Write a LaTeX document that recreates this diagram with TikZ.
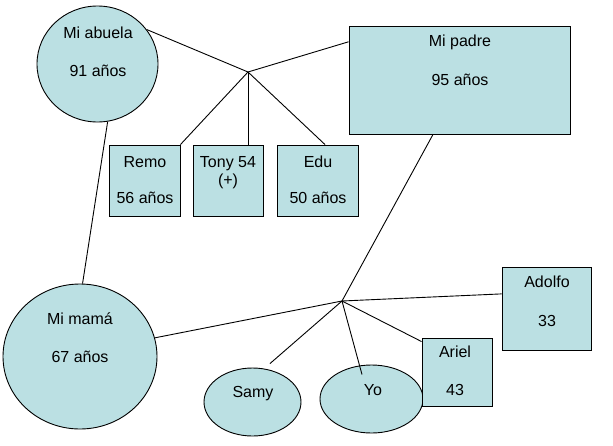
\documentclass[tikz,border=0pt]{standalone}
\usepackage{fontspec}
\setmainfont{Liberation Sans}
\usetikzlibrary{shapes.geometric}
\definecolor{boxfill}{RGB}{187,224,227}
\begin{document}
\begin{tikzpicture}[x=1pt,y=-1pt,
  shp/.style={draw=black,fill=boxfill,line width=0.9pt,inner sep=0pt},
  oval/.style={shp,ellipse},
  rectbox/.style={shp,rectangle},
  lbl/.style={anchor=base,inner sep=0pt,font=\fontsize{16}{18}\selectfont},
  link/.style={draw=black,line width=0.9pt}]
\useasboundingbox (0,0) rectangle (613,445);
% shapes
\node[oval,minimum width=121pt,minimum height=116pt] (abuela) at (97.5,64) {};
\node[rectbox,minimum width=221pt,minimum height=108pt] (padre) at (459.5,80) {};
\node[rectbox,minimum width=71pt,minimum height=71pt] (remo) at (144.5,180.5) {};
\node[rectbox,minimum width=70pt,minimum height=71pt] (tony) at (228,180.5) {};
\node[rectbox,minimum width=81pt,minimum height=71pt] (edu) at (317.5,180.5) {};
\node[oval,minimum width=154pt,minimum height=145pt] (mama) at (80,356.5) {};
\node[rectbox,minimum width=89pt,minimum height=83pt] (adolfo) at (546.5,308.5) {};
\node[oval,minimum width=97pt,minimum height=68pt] (samy) at (252.5,402) {};
\node[oval,minimum width=103pt,minimum height=68pt] (yo) at (371.5,399) {};
\node[rectbox,minimum width=70pt,minimum height=68pt] (ariel) at (457,372) {};
% texts
\node[lbl] (t1) at (98,38) {Mi abuela};
\node[lbl] (t2) at (98,76) {91 años};
\node[lbl] (t3) at (460,46.5) {Mi padre};
\node[lbl] (t4) at (460,85) {95 años};
\node[lbl] (t5) at (145,167) {Remo};
\node[lbl] (t6) at (145,203) {56 años};
\node[lbl] (t7) at (228,167) {Tony 54};
\node[lbl] (t8) at (228,185) {(+)};
\node[lbl] (t9) at (318,167) {Edu};
\node[lbl] (t10) at (318,203) {50 años};
\node[lbl] (t11) at (80,324) {Mi mamá};
\node[lbl] (t12) at (80,362) {67 años};
\node[lbl] (t13) at (547,287) {Adolfo};
\node[lbl] (t14) at (547,326) {33};
\node[lbl] (t15) at (455,357) {Ariel};
\node[lbl] (t16) at (455,395) {43};
\node[lbl] (t17) at (253,397) {Samy};
\node[lbl] (t18) at (373,395) {Yo};
% junctions
\coordinate (j1) at (248,72);
\coordinate (j2) at (342,301);
% connectors
\draw[link] (abuela.35) -- (j1) -- (padre.161);
\draw[link] (j1) -- (remo.north east);
\draw[link] (j1) -- (j1 |- tony.north);
\draw[link] (j1) -- ([xshift=7.5pt]edu.north);
\draw[link] (abuela.280) -- (mama.88);
\draw[link] (mama.14) -- (j2) -- (adolfo.162);
\draw[link] ([xshift=-26.5pt]padre.south) -- (j2);
\draw[link] (j2) -- ([yshift=-4pt]ariel.north west);
\draw[link] (j2) -- ([xshift=17.5pt,yshift=4pt]samy.north);
\draw[link] (j2) -- ([xshift=-9.5pt,yshift=-10pt]yo.north);
\end{tikzpicture}
\end{document}
